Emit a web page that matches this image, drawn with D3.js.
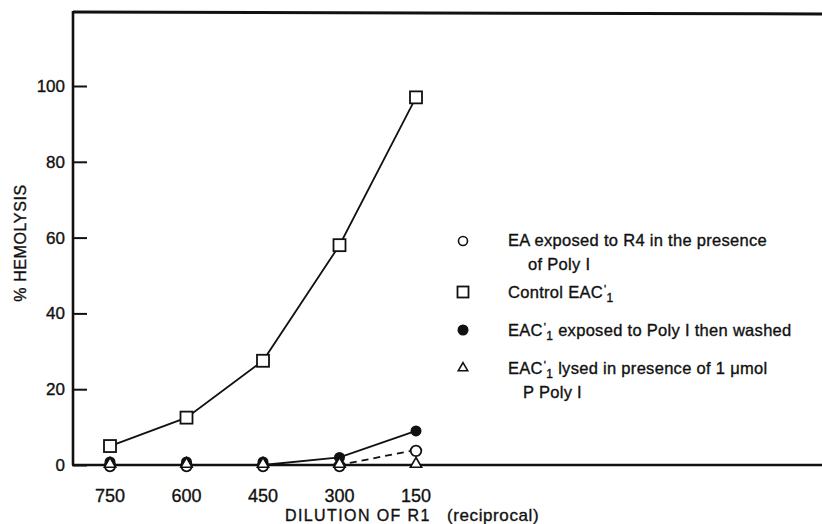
<!DOCTYPE html>
<html><head><meta charset="utf-8">
<script src="https://cdn.jsdelivr.net/npm/d3@7"></script>
<style>body{margin:0;background:#fff}svg{display:block}text{font-family:"Liberation Sans",Arial,sans-serif;fill:#111;stroke:#111;stroke-width:0.35px}</style>
</head><body><svg id="c" width="822" height="524"></svg>
<script>
const categories = ["750","600","450","300","150"];
const controlEAC = [5, 12.5, 27.5, 58, 97];          // open squares
const exposedWashed = [0.8, 0.8, 0.8, 2, 9];        // filled circles
const eaR4PolyI = [0, 0, 0, 0, 4];                  // open circles
const lysedPolyI = [0, 0, 0, 0, 0];                 // open triangles
const yTicks = [0, 20, 40, 60, 80, 100];

const svg = d3.select("#c");
const x = d3.scalePoint().domain(categories).range([110, 416]);
const y = d3.scaleLinear().domain([0, 100]).range([465, 86]);
const ink = "#111";

// frame: top line and left axis
svg.append("path").attr("d", "M73,12 L822,14").attr("stroke", ink).attr("stroke-width", 3).attr("fill", "none");
svg.append("line").attr("x1", 73).attr("x2", 73).attr("y1", 11).attr("y2", y(0)).attr("stroke", ink).attr("stroke-width", 2.6);
svg.append("line").attr("x1", 72).attr("x2", 822).attr("y1", y(0)).attr("y2", y(0)).attr("stroke", ink).attr("stroke-width", 2.6);

// y axis ticks (inward)
const yAxis = svg.append("g").attr("transform", "translate(73,0)")
  .call(d3.axisRight(y).tickValues(yTicks).tickSize(14).tickFormat(""));
yAxis.select(".domain").remove();
yAxis.selectAll("line").attr("stroke", ink).attr("stroke-width", 2);
svg.selectAll(".ylab").data(yTicks).join("text").attr("class","ylab")
  .attr("x", 65).attr("y", d => y(d) + 6).attr("text-anchor", "end")
  .attr("font-size", 17).text(d => d);

// x tick labels
svg.selectAll(".xlab").data(categories).join("text").attr("class","xlab")
  .attr("x", d => x(d)).attr("y", 502).attr("text-anchor", "middle")
  .attr("font-size", 18).text(d => d);

// axis titles
svg.append("text").attr("transform", "translate(26,243) rotate(-90)").attr("text-anchor", "middle")
  .attr("font-size", 16).attr("letter-spacing", 0.6).text("%  HEMOLYSIS");
svg.append("text").attr("x", 285).attr("y", 521).attr("font-size", 16).attr("letter-spacing", 1.4).text("DILUTION OF R1");
svg.append("text").attr("x", 447).attr("y", 521).attr("font-size", 17).attr("letter-spacing", 0.6).text("(reciprocal)");

// lines
const line = d3.line().x((d, i) => x(categories[i])).y(d => y(d));
svg.append("path").attr("d", line(controlEAC)).attr("fill","none").attr("stroke",ink).attr("stroke-width",1.8);
svg.append("path").attr("d", line(exposedWashed.map((v,i)=> i<3 ? 0 : v))).attr("fill","none").attr("stroke",ink).attr("stroke-width",1.8);
svg.append("path").attr("d", line(eaR4PolyI)).attr("fill","none").attr("stroke",ink).attr("stroke-width",1.8).attr("stroke-dasharray","7,5");

// markers
function triangle(sel){ sel.attr("d", d3.symbol(d3.symbolTriangle, 55)()); }
svg.selectAll(".fc").data(exposedWashed).join("circle").attr("cx",(d,i)=>x(categories[i])).attr("cy",d=>y(d)).attr("r",5.5).attr("fill",ink);
svg.selectAll(".oc").data(eaR4PolyI).join("circle").attr("cx",(d,i)=>x(categories[i])).attr("cy",d=>y(d)+1).attr("r",5.3).attr("fill","#fff").attr("stroke",ink).attr("stroke-width",1.8);
svg.selectAll(".tr").data(lysedPolyI).join("path").attr("transform",(d,i)=>`translate(${x(categories[i])},${y(d)-1})`).call(triangle).attr("fill","#fff").attr("stroke",ink).attr("stroke-width",1.6);
svg.selectAll(".sq").data(controlEAC).join("rect").attr("x",(d,i)=>x(categories[i])-6).attr("y",d=>y(d)-6).attr("width",12).attr("height",12).attr("fill","#fff").attr("stroke",ink).attr("stroke-width",1.8);

// legend
const lx = 463, tx = 508, fs = 16.5;
const lg = svg.append("g");
function eac(t, rest){
  t.append("tspan").text("EAC");
  t.append("tspan").attr("dx",1).attr("dy",-5).attr("font-size",fs*0.7).text("'");
  t.append("tspan").attr("dy",9).attr("font-size",fs*0.72).text("1");
  if (rest) t.append("tspan").attr("dy",-4).text(rest);
}
lg.append("circle").attr("cx",lx).attr("cy",241).attr("r",4.5).attr("fill","none").attr("stroke",ink).attr("stroke-width",1.6);
lg.append("text").attr("x",tx).attr("y",246).attr("font-size",fs).attr("letter-spacing",0.3).text("EA  exposed to R4 in the presence");
lg.append("text").attr("x",528).attr("y",270).attr("font-size",fs).attr("letter-spacing",0.3).text("of  Poly I");
lg.append("rect").attr("x",lx-5.5).attr("y",286.5).attr("width",11).attr("height",11).attr("fill","none").attr("stroke",ink).attr("stroke-width",1.8);
const t2 = lg.append("text").attr("x",tx).attr("y",298).attr("font-size",fs).attr("letter-spacing",0.3); t2.append("tspan").text("Control  "); eac(t2, "");
lg.append("circle").attr("cx",lx).attr("cy",330).attr("r",5.5).attr("fill",ink);
const t3 = lg.append("text").attr("x",tx).attr("y",336).attr("font-size",fs).attr("letter-spacing",0.3); eac(t3, " exposed to Poly I  then washed");
lg.append("path").attr("transform",`translate(${lx},368)`).attr("d", d3.symbol(d3.symbolTriangle, 38)()).attr("fill","none").attr("stroke",ink).attr("stroke-width",1.6);
const t4 = lg.append("text").attr("x",tx).attr("y",374).attr("font-size",fs).attr("letter-spacing",0.3); eac(t4, "  lysed in presence of  1 \u03bcmol");
lg.append("text").attr("x",523).attr("y",398).attr("font-size",fs).attr("letter-spacing",0.3).text("P Poly I");
</script></body></html>
